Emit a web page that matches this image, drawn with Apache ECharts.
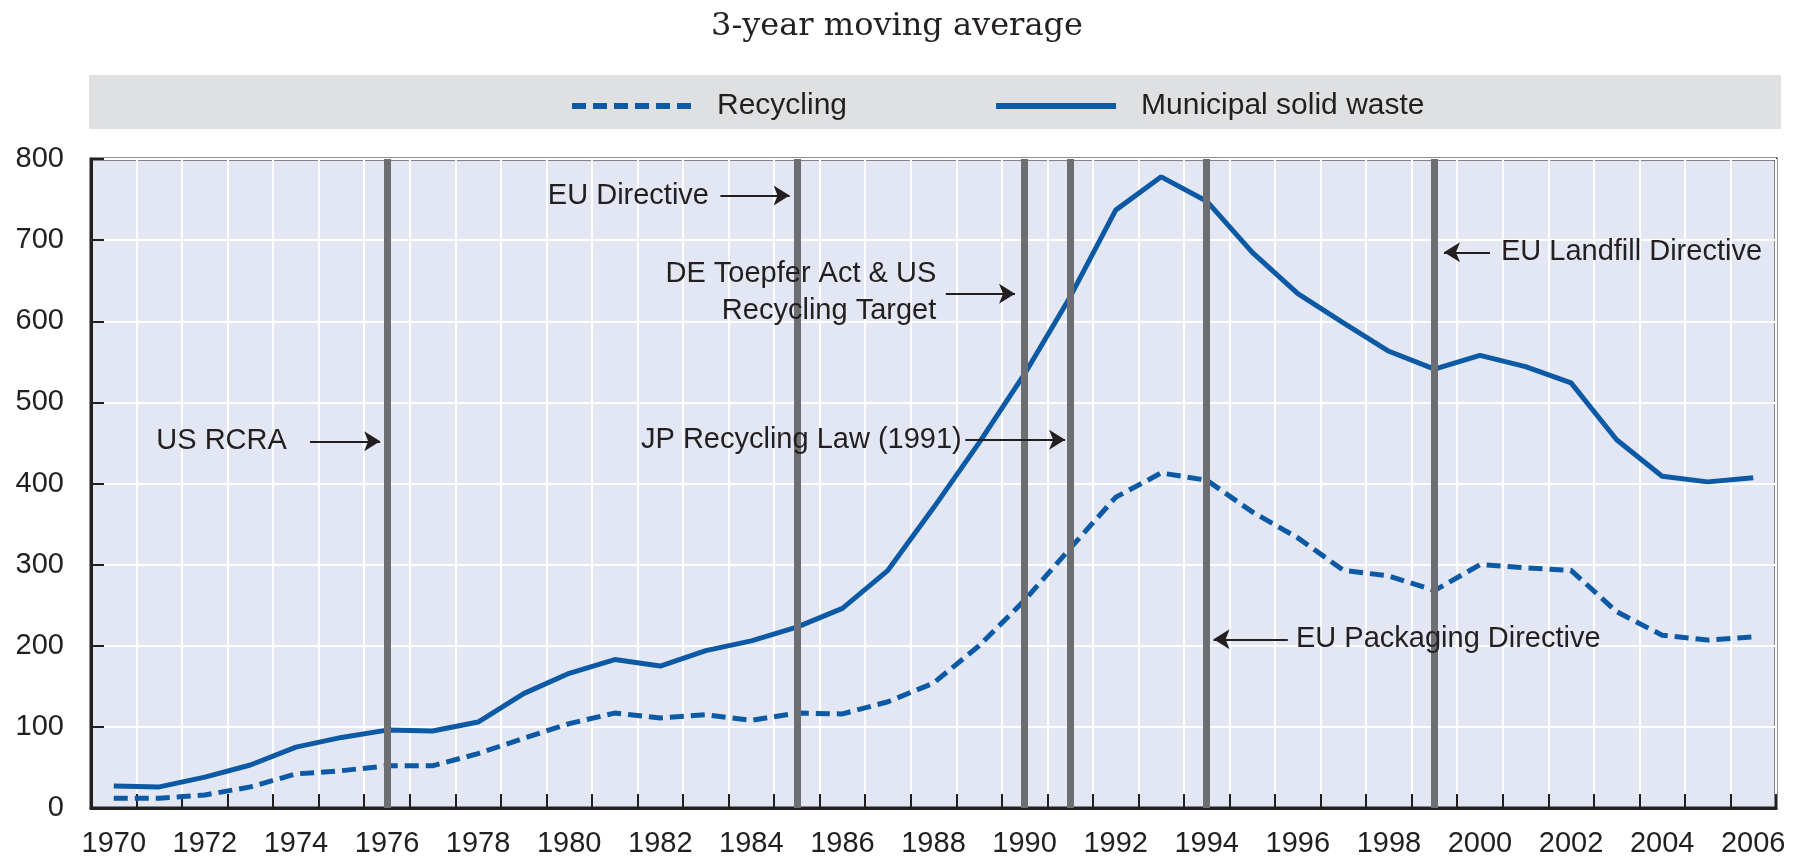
<!DOCTYPE html>
<html>
<head>
<meta charset="utf-8">
<title>3-year moving average</title>
<script src="https://cdn.jsdelivr.net/npm/echarts@6/dist/echarts.min.js"></script>
<style>
  html, body { margin: 0; padding: 0; background: #fff; }
  #chart { width: 1794px; height: 862px; }
</style>
</head>
<body>
<div id="chart"></div>
<script>
// --- data ---
const years = ['1970','1971','1972','1973','1974','1975','1976','1977','1978','1979',
  '1980','1981','1982','1983','1984','1985','1986','1987','1988','1989',
  '1990','1991','1992','1993','1994','1995','1996','1997','1998','1999',
  '2000','2001','2002','2003','2004','2005','2006'];

const recycling = [12, 12, 16, 26, 42, 46, 52, 52, 67, 86,
  104, 117, 111, 115, 108, 117, 116, 131, 154, 200,
  256, 320, 383, 413, 404, 365, 333, 293, 286, 268,
  300, 296, 293, 242, 213, 207, 211];

const msw = [27, 26, 38, 53, 75, 87, 96, 95, 106, 141,
  166, 183, 175, 194, 206, 223, 246, 293, 370, 450,
  535, 630, 737, 778, 748, 685, 634, 598, 563, 541,
  558, 544, 524, 454, 409, 402, 407];

const yTicks = [0, 100, 200, 300, 400, 500, 600, 700, 800];

// policy events (year of the grey bar)
const eventYears = [1976, 1985, 1990, 1991, 1994, 1999];
const eventLabels = ['US RCRA', 'EU Directive', 'DE Toepfer Act & US\nRecycling Target',
  'JP Recycling Law (1991)', 'EU Packaging Directive', 'EU Landfill Directive'];
const eventLevels = [452, 755, 634, 454, 208, 685];

// --- annotation layout (year units on a hidden value axis) ---
// [arrow tail, arrow tip, text anchor, text side]
const annotLayout = [
  [1974.31, 1975.85, 1973.80, 'right'],
  [1983.32, 1984.84, 1983.07, 'right'],
  [1988.27, 1989.79, 1988.06, 'right'],
  [1988.70, 1990.89, 1988.62, 'right'],
  [1995.78, 1994.15, 1995.96, 'left'],
  [2000.22, 1999.21, 2000.46, 'left'],
];

const INK = '#231f20';
const BLUE = '#0c5aa6';
const SANS = "'Liberation Sans', Arial, sans-serif";

const chart = echarts.init(document.getElementById('chart'), null, { renderer: 'canvas' });

chart.setOption({
  animation: false,
  backgroundColor: '#fff',
  title: {
    text: '3-year moving average',
    left: 'center',
    top: 6,
    textStyle: { fontFamily: "'DejaVu Serif', serif", fontWeight: 'normal', fontSize: 32, color: INK },
  },
  // grey band behind the legend
  graphic: [{
    type: 'rect',
    left: 89, top: 75, z: -1,
    shape: { width: 1692, height: 54 },
    style: { fill: '#dfe0e2' },
  }],
  legend: {
    data: ['Recycling', 'Municipal solid waste'],
    left: 564,
    top: 86,
    itemWidth: 120,
    itemHeight: 14,
    itemGap: 146,
    itemStyle: { opacity: 0 },
    lineStyle: { width: 6 },
    textStyle: { fontFamily: SANS, fontSize: 30, color: INK, padding: [0, 0, 0, 20] },
  },
  grid: {
    left: 91, right: 18, top: 159, bottom: 54,
    show: true,
    backgroundColor: '#e3e6f3',
    borderColor: INK,
    borderWidth: 3,
  },
  xAxis: [
    {
      type: 'category',
      data: years,
      boundaryGap: true,
      axisLine: { lineStyle: { color: INK, width: 3 } },
      axisTick: { show: true, inside: true, length: 14, interval: 0, lineStyle: { color: INK, width: 2 } },
      axisLabel: { interval: 1, fontFamily: SANS, fontSize: 29, color: INK, margin: 21 },
      splitLine: { show: true, interval: 0, lineStyle: { color: '#ffffff', width: 2 } },
    },
    {
      type: 'value',
      min: 1969.5,
      max: 2006.5,
      show: false,
    },
  ],
  yAxis: {
    type: 'value',
    min: yTicks[0],
    max: yTicks[yTicks.length - 1],
    interval: yTicks[1] - yTicks[0],
    axisLine: { show: true, lineStyle: { color: INK, width: 3 } },
    axisTick: { show: true, inside: true, length: 13, lineStyle: { color: INK, width: 2 } },
    axisLabel: { fontFamily: SANS, fontSize: 29, color: INK, margin: 27 },
    splitLine: { show: true, lineStyle: { color: '#ffffff', width: 2 } },
  },
  series: [
    {
      name: 'Recycling',
      type: 'line',
      data: recycling,
      symbol: 'none',
      z: 3,
      lineStyle: { color: BLUE, width: 5, type: [14, 7] },
      itemStyle: { color: BLUE },
    },
    {
      name: 'Municipal solid waste',
      type: 'line',
      data: msw,
      symbol: 'none',
      z: 3,
      lineStyle: { color: BLUE, width: 5 },
      itemStyle: { color: BLUE },
    },
    // grey policy bars
    {
      type: 'line',
      xAxisIndex: 1,
      data: [],
      z: 5,
      markLine: {
        silent: true,
        symbol: 'none',
        label: { show: false },
        lineStyle: { color: '#6d6e71', width: 7, type: 'solid' },
        data: eventYears.map(y => ({ xAxis: y })),
      },
    },
    // arrows + texts
    {
      type: 'line',
      xAxisIndex: 1,
      data: [],
      z: 6,
      markLine: {
        silent: true,
        symbol: ['none', 'arrow'],
        symbolSize: [15, 16],
        label: { show: false },
        lineStyle: { color: INK, width: 2, type: 'solid' },
        data: annotLayout.map((a, i) => [
          { coord: [a[0], eventLevels[i]] },
          { coord: [a[1], eventLevels[i]] },
        ]),
      },
      markPoint: {
        silent: true,
        symbol: 'circle',
        symbolSize: 0,
        data: annotLayout.map((a, i) => ({
          coord: [a[2], eventLevels[i] + (i === 2 ? 2 : 0)],
          label: {
            show: true,
            position: 'inside',
            formatter: eventLabels[i],
            align: a[3],
            verticalAlign: 'middle',
            fontFamily: SANS,
            fontSize: 29,
            lineHeight: 37,
            color: INK,
          },
        })),
      },
    },
  ],
});
</script>
</body>
</html>
